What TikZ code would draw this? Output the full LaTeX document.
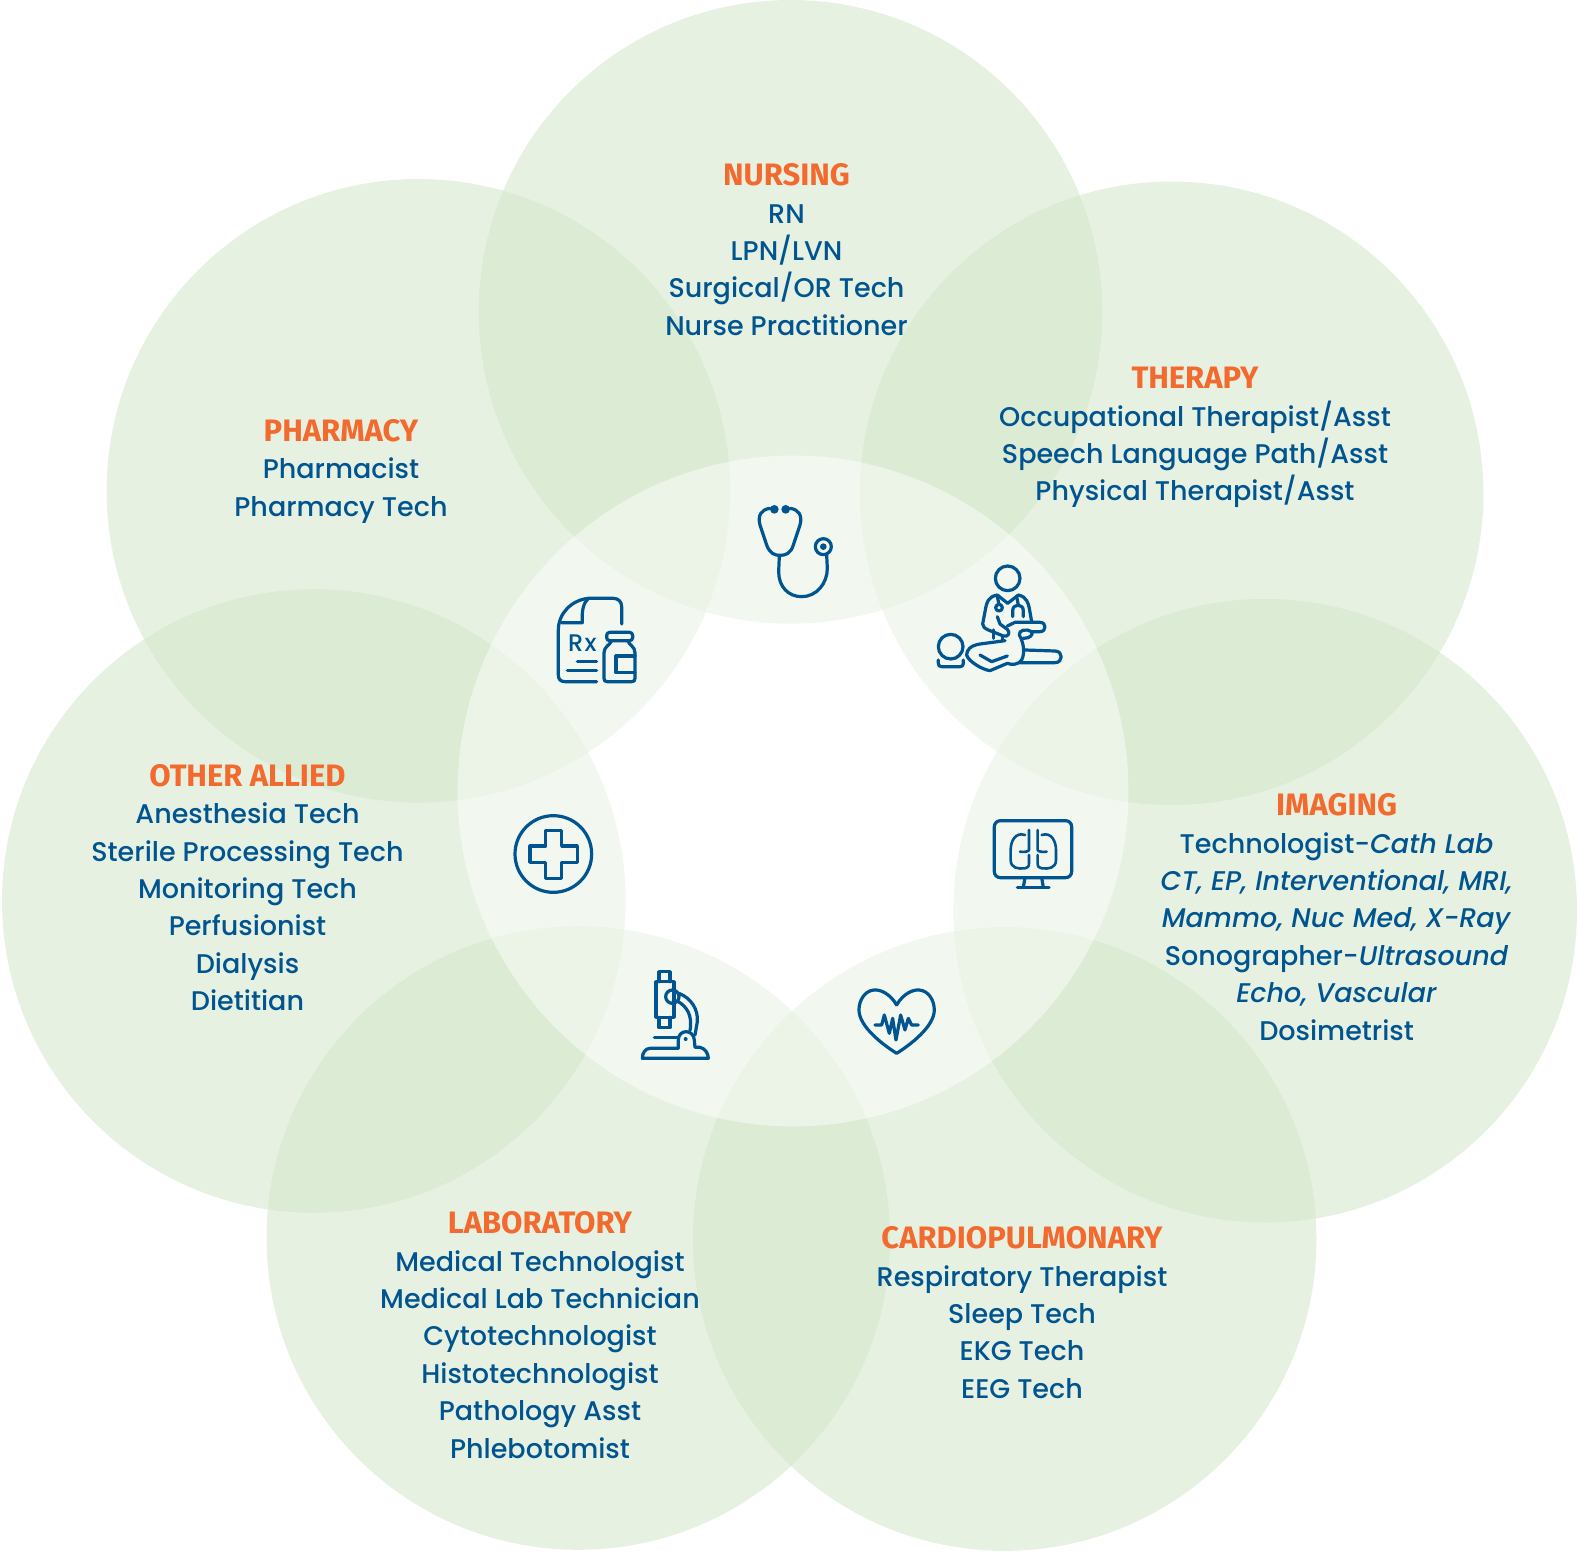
\documentclass[tikz,border=0pt]{standalone}
\usepackage{fontspec}
\setmainfont{Poppins}[UprightFont=* Medium,ItalicFont=* Medium Italic]
\newfontfamily\headfont{Fira Sans}[BoldFont={Fira Sans Bold}]
\definecolor{bluetext}{HTML}{00548F}
\definecolor{orangehead}{HTML}{F26A2E}
\definecolor{petal}{HTML}{D0E4C6}
\newcommand{\head}[1]{\textcolor{orangehead}{\fontsize{31}{37.4}\selectfont\headfont\bfseries #1}}
\tikzset{
  group/.style={anchor=north,align=center,inner sep=0pt,text=bluetext,
    font=\fontsize{27}{37.4}\selectfont},
  icon/.style={draw=bluetext,line width=3.2pt,line cap=round,line join=round},
  zoomed/.style={x=0.3333pt,y=-0.3333pt}
}
\begin{document}
\begin{tikzpicture}[x=1pt,y=-1pt]
\useasboundingbox (0,0) rectangle (1577,1551);

% petals
\foreach \cx/\cy in {790.5/311.8,1171.6/493.3,1265.2/910.7,1004.7/1239,578.3/1238,313.8/901,418.4/490.8}
  \fill[petal,opacity=0.5] (\cx,\cy) circle (311.8pt);
\fill[white,opacity=0.45] (793,791) circle (335.4pt);

% labels
\node[group] (nursing) at (786.5,163.5) {\head{NURSING}\\RN\\LPN/LVN\\Surgical/OR Tech\\Nurse Practitioner};
\node[group] (therapy) at (1195,367) {\head{THERAPY}\\Occupational Therapist/Asst\\Speech Language Path/Asst\\Physical Therapist/Asst};
\node[group] (pharmacy) at (341,419) {\head{PHARMACY}\\Pharmacist\\Pharmacy Tech};
\node[group] (allied) at (247.5,764) {\head{OTHER ALLIED}\\Anesthesia Tech\\Sterile Processing Tech\\Monitoring Tech\\Perfusionist\\Dialysis\\Dietitian};
\node[group] (imaging) at (1336.6,793.5) {\head{IMAGING}\\Technologist-\textit{Cath Lab}\\\textit{CT, EP, Interventional, MRI,}\\\textit{Mammo, Nuc Med, X-Ray}\\Sonographer-\textit{Ultrasound}\\\textit{Echo, Vascular}\\Dosimetrist};
\node[group] (lab) at (540,1211.5) {\head{LABORATORY}\\Medical Technologist\\Medical Lab Technician\\Cytotechnologist\\Histotechnologist\\Pathology Asst\\Phlebotomist};
\node[group] (cardio) at (1022,1226.5) {\head{CARDIOPULMONARY}\\Respiratory Therapist\\Sleep Tech\\EKG Tech\\EEG Tech};

% stethoscope
\begin{scope}[shift={(720,480)},zoomed]
  \draw[icon] (150,85) .. controls (125,88) and (112,105) .. (120,135) -- (140,195)
    .. controls (150,222) and (165,226) .. (180,226) .. controls (195,226) and (212,222) .. (220,195)
    -- (240,135) .. controls (248,105) and (235,88) .. (210,85);
  \fill[bluetext] (163,88) circle (13) (197,88) circle (13);
  \draw[icon] (178,228) -- (176,275) .. controls (176,320) and (205,350) .. (245,350)
    .. controls (290,350) and (322,310) .. (322,265) -- (320,225);
  \draw[icon] (310,200) circle (24);
  \fill[bluetext] (310,200) circle (10);
\end{scope}

% therapist and patient
\begin{scope}[shift={(920,550)},zoomed]
  \draw[icon] (263,85) circle (37);
  \draw[icon] (232,135) -- (263,160) -- (295,135);
  \draw[icon] (232,135) .. controls (205,140) and (200,155) .. (195,185) -- (188,222)
    .. controls (187,230) and (195,235) .. (205,240) -- (250,258)
    .. controls (265,262) and (272,248) .. (262,238) -- (240,222) -- (232,200);
  \draw[icon] (262,228) -- (285,217) -- (360,217) .. controls (380,217) and (380,245) .. (360,245) -- (335,245);
  \draw[icon] (295,135) .. controls (320,140) and (325,160) .. (328,175) -- (335,215);
  \draw[icon] (232,140) -- (237,163);
  \draw[icon] (237,173) circle (10);
  \draw[icon] (290,140) -- (295,165);
  \draw[icon] (278,200) -- (278,182) .. controls (278,160) and (310,160) .. (310,182) -- (310,200);
  \draw[icon] (92,290) circle (37);
  \draw[icon] (55,330) -- (55,340) .. controls (55,347) and (58,350) .. (65,350) -- (120,350)
    .. controls (127,350) and (130,347) .. (130,340) -- (130,330);
  \draw[icon] (255,272) -- (180,282) .. controls (150,287) and (140,300) .. (140,315)
    .. controls (145,335) and (190,360) .. (210,362) -- (262,340) .. controls (275,345) and (295,345) .. (305,330)
    .. controls (315,310) and (312,280) .. (298,255) .. controls (295,240) and (320,235) .. (335,245)
    .. controls (340,255) and (330,265) .. (310,265);
  \draw[icon] (180,315) -- (215,335) -- (262,318);
  \draw[icon] (315,300) -- (405,303) .. controls (430,303) and (430,338) .. (405,338) -- (300,338);
  \draw[icon] (220,240) -- (220,265);
  \draw[icon] (248,258) -- (248,272);
\end{scope}

% prescription
\begin{scope}[shift={(500,580)},zoomed]
  \draw[icon] (365,132) -- (365,80) .. controls (365,65) and (355,55) .. (340,55) -- (265,55)
    .. controls (215,60) and (175,100) .. (175,150) -- (175,285) .. controls (175,298) and (182,305) .. (195,305) -- (290,305);
  \draw[icon] (265,55) .. controls (250,70) and (245,90) .. (247,128) -- (185,128);
  \node[text=bluetext,inner sep=0pt,font=\fontsize{24}{24}\selectfont] (rx) at (247,190) {R\kern1.5pt x};
  \draw[icon] (232,245) -- (290,245);
  \draw[icon] (202,272) -- (290,272);
  \draw[icon,rounded corners=3pt] (320,157) rectangle (398,182);
  \draw[icon] (335,182) .. controls (330,195) and (312,200) .. (312,218) -- (312,295)
    .. controls (312,302) and (315,305) .. (322,305) -- (395,305) .. controls (402,305) and (405,302) .. (405,295)
    -- (405,218) .. controls (405,200) and (388,195) .. (383,182);
  \draw[icon] (405,228) -- (348,228) -- (348,278) -- (405,278);
\end{scope}

% cross
\begin{scope}[shift={(500,800)},zoomed]
  \draw[icon] (160,162) circle (115);
  \draw[icon] (137,92) -- (185,92) -- (185,138) -- (232,138) -- (232,187) -- (185,187) -- (185,235)
    -- (137,235) -- (137,187) -- (90,187) -- (90,138) -- (137,138) -- cycle;
\end{scope}

% microscope and heart
\begin{scope}[shift={(620,960)},zoomed]
  \draw[icon] (117,65) -- (117,35) -- (150,35) -- (150,65);
  \draw[icon] (108,65) rectangle (162,172);
  \draw[icon] (117,172) -- (117,203) -- (150,203) -- (150,172);
  \draw[icon] (157,110) circle (20);
  \draw[icon] (177,100) .. controls (215,115) and (235,150) .. (232,185) -- (225,225);
  \draw[icon] (175,125) .. controls (200,140) and (218,165) .. (210,212);
  \draw[icon] (175,265) -- (175,240) .. controls (175,225) and (185,215) .. (198,215)
    .. controls (212,215) and (222,225) .. (223,240) -- (225,262) -- (240,262)
    .. controls (255,265) and (265,280) .. (265,295) -- (67,295) .. controls (67,280) and (75,265) .. (90,265) -- (175,265);
  \fill[bluetext] (197,237) circle (6);
  \draw[icon] (103,232) -- (175,232);
  \draw[icon] (830,135) .. controls (810,100) and (780,88) .. (762,90) .. controls (735,92) and (717,120) .. (717,150)
    .. controls (717,200) and (790,255) .. (830,280) .. controls (870,255) and (943,200) .. (943,150)
    .. controls (943,120) and (925,92) .. (898,90) .. controls (880,88) and (850,100) .. (830,135);
  \draw[icon] (765,195) -- (785,195) -- (793,165) -- (808,220) -- (818,175) -- (828,240) -- (842,165)
    -- (855,210) -- (865,175) -- (875,195) -- (895,195);
\end{scope}

% monitor and lungs
\begin{scope}[shift={(980,800)},zoomed]
  \draw[icon,rounded corners=6pt] (43,62) rectangle (275,233);
  \draw[icon] (135,233) -- (130,262);
  \draw[icon] (185,233) -- (190,262);
  \draw[icon] (112,262) -- (207,262);
  \draw[icon,line width=2.6pt] (147,90) -- (147,150) .. controls (147,155) and (130,157) .. (120,155);
  \draw[icon,line width=2.6pt] (135,105) .. controls (105,95) and (92,125) .. (92,150) -- (92,180)
    .. controls (92,205) and (115,207) .. (135,205) .. controls (143,204) and (147,200) .. (147,190) -- (147,165);
  \draw[icon,line width=2.6pt] (173,90) -- (173,150) .. controls (173,155) and (190,157) .. (200,155);
  \draw[icon,line width=2.6pt] (185,105) .. controls (215,95) and (228,125) .. (228,150) -- (228,180)
    .. controls (228,205) and (205,207) .. (185,205) .. controls (177,204) and (173,200) .. (173,190) -- (173,165);
\end{scope}
\end{tikzpicture}
\end{document}
